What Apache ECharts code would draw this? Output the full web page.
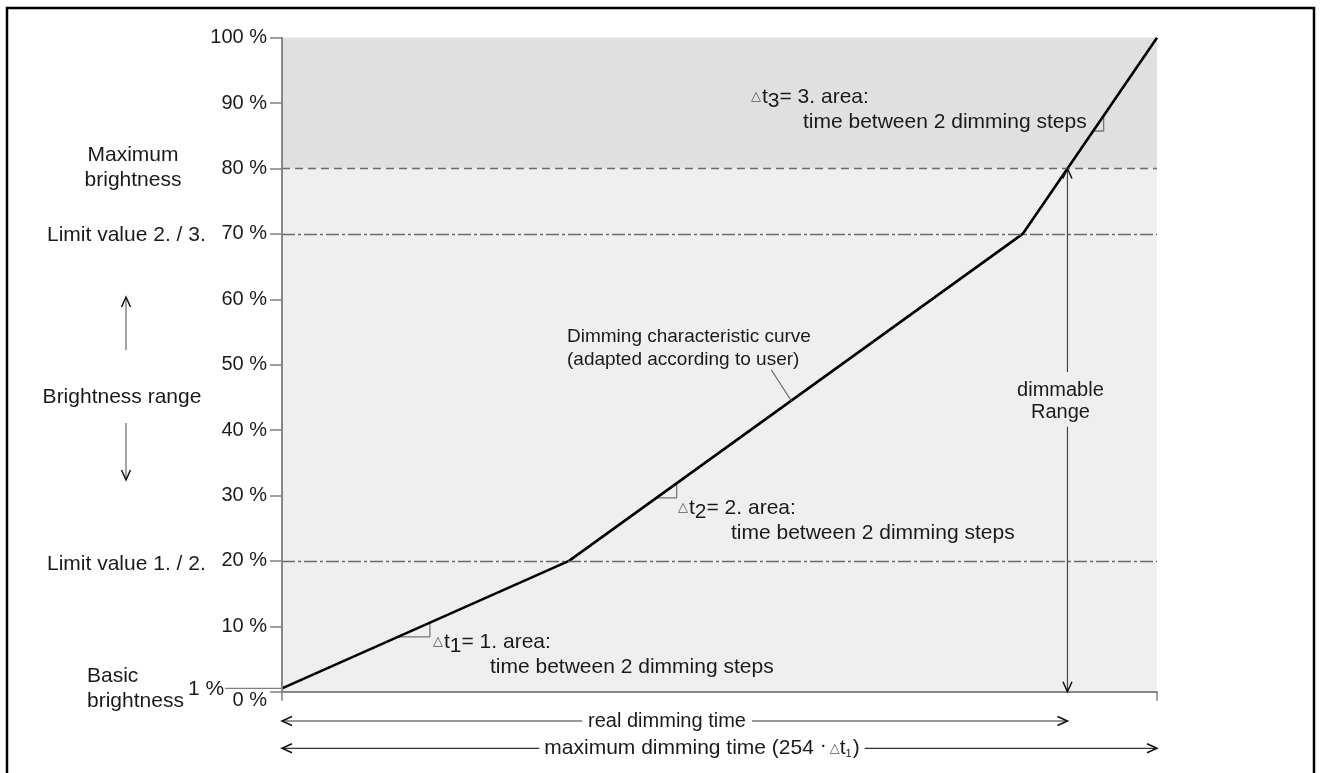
<!DOCTYPE html>
<html>
<head>
<meta charset="utf-8">
<script src="https://cdn.jsdelivr.net/npm/echarts@6/dist/echarts.min.js"></script>
<style>
html, body { margin: 0; padding: 0; background: #fff; }
#chart { width: 1321px; height: 773px; }
</style>
</head>
<body>
<div id="chart"></div>
<script>
// dimming curve: x = share of the maximum dimming time (%), y = brightness (%)
var curveX = [0, 32.8, 84.65, 100];
var curveY = [0.5, 20, 70, 100];
var basicLevel = 0.5;
var limitLevels = [20, 70];
var maxLevel = 80;
var yStep = 10;
// small step triangles on the curve (start time, width)
var stepStart = [13.26, 42.8, 92.7];
var stepWidth = [3.64, 2.3, 1.2];
// where the leader of the curve label meets the curve
var leaderAt = 58.2;
// gap in the "dimmable Range" arrow for its label
var rangeGap = [40.5, 48.9];

var FONT = '"Liberation Sans", Arial, sans-serif';
var TXT = '#1a1a1a';
var GRAY = '#808080';

function curveAt(x) {
  for (var i = 1; i < curveX.length; i++) {
    if (x <= curveX[i]) {
      var t = (x - curveX[i - 1]) / (curveX[i] - curveX[i - 1]);
      return curveY[i - 1] + t * (curveY[i] - curveY[i - 1]);
    }
  }
  return curveY[curveY.length - 1];
}
function timeAt(y) {
  for (var i = 1; i < curveY.length; i++) {
    if (y <= curveY[i]) {
      var t = (y - curveY[i - 1]) / (curveY[i] - curveY[i - 1]);
      return curveX[i - 1] + t * (curveX[i] - curveX[i - 1]);
    }
  }
  return curveX[curveX.length - 1];
}
var realEnd = timeAt(maxLevel);

var curveData = curveX.map(function (x, i) { return [x, curveY[i]]; });

var axisLineStyle = { color: GRAY, width: 1.5 };

var series = [
  {
    // background bands
    type: 'line', data: curveData, symbol: 'none', silent: true, z: 1,
    lineStyle: { opacity: 0 },
    markArea: {
      silent: true,
      data: [
        [{ yAxis: 0, itemStyle: { color: '#efefef' } }, { yAxis: maxLevel }],
        [{ yAxis: maxLevel, itemStyle: { color: '#e0e0e0' } }, { yAxis: 100 }]
      ]
    }
  },
  {
    // limit lines
    type: 'line', data: [], symbol: 'none', silent: true, z: 2,
    markLine: {
      silent: true, symbol: ['none', 'none'], label: { show: false },
      data: [
        { yAxis: maxLevel, lineStyle: { type: [8, 5], color: '#6a6a6a', width: 1.3 } },
        { yAxis: limitLevels[1], lineStyle: { type: [13, 3, 3, 3], color: '#6a6a6a', width: 1.3 } },
        { yAxis: limitLevels[0], lineStyle: { type: [13, 3, 3, 3], color: '#6a6a6a', width: 1.3 } }
      ]
    }
  },
  {
    name: 'curve', type: 'line', data: curveData, symbol: 'none', z: 4,
    lineStyle: { color: '#000', width: 2.6 }
  }
];

stepStart.forEach(function (x0, i) {
  var x1 = x0 + stepWidth[i];
  var y0 = curveAt(x0), y1 = curveAt(x1);
  series.push({
    type: 'line', data: [[x0, y0], [x1, y0], [x1, y1]], symbol: 'none', silent: true, z: 3,
    lineStyle: { color: '#777', width: 1.3 }
  });
});

// dimmable range arrow, split around its label
series.push({
  type: 'line', data: [[realEnd, 0], [realEnd, rangeGap[0]]], symbol: 'none', silent: true, z: 3,
  lineStyle: { color: '#444', width: 1.2 }
});
series.push({
  type: 'line', data: [[realEnd, rangeGap[1]], [realEnd, maxLevel]], symbol: 'none', silent: true, z: 3,
  lineStyle: { color: '#444', width: 1.2 }
});

var option = {
  animation: false,
  backgroundColor: '#fff',
  grid: { left: 282, top: 37.7, right: 164, bottom: 81.3 },
  xAxis: [
    {
      type: 'value', min: 0, max: 100, interval: 100, z: 10,
      axisLine: { show: true, lineStyle: axisLineStyle },
      axisTick: { show: true, length: 9, lineStyle: axisLineStyle },
      axisLabel: { show: false }, splitLine: { show: false }
    },
    {
      type: 'value', position: 'top', min: 0, max: 100, z: 10,
      axisLine: { show: true, lineStyle: axisLineStyle },
      axisTick: { show: false }, axisLabel: { show: false }, splitLine: { show: false }
    }
  ],
  yAxis: [
    {
      type: 'value', min: 0, max: 100, interval: yStep, z: 10,
      axisLine: { show: true, lineStyle: axisLineStyle },
      axisTick: { show: true, length: 12, lineStyle: axisLineStyle },
      splitLine: { show: false },
      axisLabel: {
        margin: 15, fontSize: 20, color: TXT, fontFamily: FONT,
        formatter: function (v) { return v === 0 ? '{low|0 %}' : v + ' %'; },
        rich: { low: { fontSize: 20, color: TXT, fontFamily: FONT, padding: [18, 0, 0, 0] } }
      }
    },
    {
      type: 'value', position: 'right', min: 0, max: 100, z: 10,
      axisLine: { show: true, lineStyle: axisLineStyle },
      axisTick: { show: false }, axisLabel: { show: false }, splitLine: { show: false }
    }
  ],
  series: series
};

var chart = echarts.init(document.getElementById('chart'), null, { renderer: 'canvas' });
chart.setOption(option);

function px(x, y) { return chart.convertToPixel({ seriesIndex: 2 }, [x, y]); }

function text(x, y, s, align, size, extra) {
  var st = { text: s, fontSize: size || 21, fontFamily: FONT, fill: TXT, align: align || 'left', verticalAlign: 'middle' };
  if (extra) for (var k in extra) st[k] = extra[k];
  return { type: 'text', x: x, y: y, z: 20, silent: true, style: st };
}
function line(a, b, color, w) {
  return { type: 'line', z: 20, silent: true, shape: { x1: a[0], y1: a[1], x2: b[0], y2: b[1] },
    style: { stroke: color || '#555', lineWidth: w || 1.2 } };
}
function head(tip, dx, dy) {
  var L = 10, W = 4.5;
  var bx = tip[0] - dx * L, by = tip[1] - dy * L;
  var nx = -dy, ny = dx;
  return { type: 'polyline', z: 21, silent: true,
    shape: { points: [[bx + nx * W, by + ny * W], [tip[0], tip[1]], [bx - nx * W, by - ny * W]] },
    style: { stroke: '#111', lineWidth: 1.5, fill: null } };
}

var stepRich = {
  tri: { fontSize: 13, fontFamily: '"DejaVu Sans"', fill: '#555', padding: [0, 1, 0, 0] },
  t: { fontSize: 21, fontFamily: FONT, fill: TXT },
  sub: { fontSize: 21, fontFamily: FONT, fill: TXT, padding: [8, 0, 0, 0] }
};
function stepLabel(x, y, n) {
  return text(x, y, '{tri|\u25b3}{t|t}{sub|' + n + '}{t|= ' + n + '. area:}', 'left', 21, { rich: stepRich });
}

var pOrigin = px(0, 0), pEnd = px(100, 100);
var g = [];

// outer frame
g.push({ type: 'rect', z: 30, silent: true, shape: { x: 7, y: 8, width: 1307, height: 800 },
  style: { fill: null, stroke: '#000', lineWidth: 2.5 } });

// left side labels
var y80 = px(0, maxLevel)[1], y70 = px(0, limitLevels[1])[1], y20 = px(0, limitLevels[0])[1];
g.push(text(133, y80 - 13, 'Maximum', 'center'));
g.push(text(133, y80 + 12, 'brightness', 'center'));
g.push(text(47, y70 + 1, 'Limit value 2. / 3.', 'left'));
g.push(text(47, y20 + 3, 'Limit value 1. / 2.', 'left'));
g.push(text(122, 397, 'Brightness range', 'center'));
g.push(line([126, 350], [126, 298], '#666'));
g.push(head([126, 297], 0, -1));
g.push(line([126, 423], [126, 479], '#666'));
g.push(head([126, 480], 0, 1));

var yb = px(0, basicLevel)[1];
g.push(text(87, yb - 12, 'Basic', 'left'));
g.push(text(87, yb + 13, 'brightness', 'left'));
g.push(text(188, yb + 1, '1 %', 'left'));
g.push(line([pOrigin[0] - 57, yb], [pOrigin[0], yb], GRAY, 1.3));

// curve label with leader
var la = px(leaderAt, curveAt(leaderAt));
g.push(line([la[0] - 20, la[1] - 31], la, '#666', 1.2));
g.push(text(567, 337, 'Dimming characteristic curve', 'left', 19));
g.push(text(567, 360, '(adapted according to user)', 'left', 19));

// step labels
g.push(stepLabel(433, 642, '1'));
g.push(text(490, 667, 'time between 2 dimming steps', 'left'));
g.push(stepLabel(678, 508, '2'));
g.push(text(731, 533, 'time between 2 dimming steps', 'left'));
g.push(stepLabel(751, 97, '3'));
g.push(text(803, 122, 'time between 2 dimming steps', 'left'));

// dimmable range arrow heads + label
var rTop = px(realEnd, maxLevel), rBot = px(realEnd, 0);
g.push(head(rTop, 0, -1));
g.push(head(rBot, 0, 1));
var gapMid = (px(0, rangeGap[0])[1] + px(0, rangeGap[1])[1]) / 2;
g.push(text(rTop[0] - 7, gapMid - 9, 'dimmable', 'center', 20));
g.push(text(rTop[0] - 7, gapMid + 13, 'Range', 'center', 20));

// time arrows under the chart
var yReal = pOrigin[1] + 29.3, yMax = pOrigin[1] + 56.6;
g.push(line([pOrigin[0], yReal], [rBot[0], yReal], '#333', 1.2));
g.push(head([pOrigin[0], yReal], -1, 0));
g.push(head([rBot[0], yReal], 1, 0));
g.push(text(667, yReal, 'real dimming time', 'center', 20, { backgroundColor: '#fff', padding: [0, 6, 0, 6] }));
g.push(line([pOrigin[0], yMax], [pEnd[0], yMax], '#333', 1.2));
g.push(head([pOrigin[0], yMax], -1, 0));
g.push(head([pEnd[0], yMax], 1, 0));
g.push(text(702, yMax, '{n|maximum dimming time (254 }{d|\u00b7}{tri|\u25b3}{t|t}{s|1}{n|)}', 'center', 21, {
  backgroundColor: '#fff', padding: [0, 5, 0, 5],
  rich: {
    n: { fontSize: 21, fontFamily: FONT, fill: TXT },
    d: { fontSize: 21, fontFamily: FONT, fill: TXT, padding: [0, 3, 6, 0] },
    tri: { fontSize: 13, fontFamily: '"DejaVu Sans"', fill: '#555' },
    t: { fontSize: 21, fontFamily: FONT, fill: TXT },
    s: { fontSize: 11, fontFamily: FONT, fill: TXT, padding: [12, 1, 0, 0] }
  }
}));

chart.setOption({ graphic: { elements: g } });
</script>
</body>
</html>
